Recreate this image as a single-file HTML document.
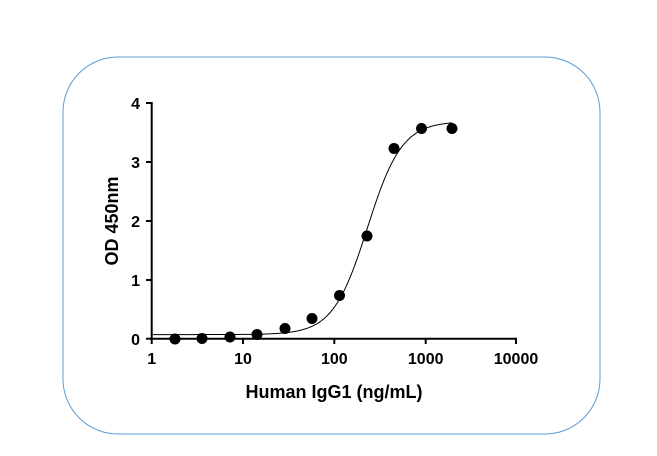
<!DOCTYPE html>
<html><head><meta charset="utf-8"><style>
html,body{margin:0;padding:0;background:#fff;}
svg{display:block;font-family:"Liberation Sans",Arial,sans-serif;}
</style></head><body>
<svg id="s" width="657" height="456" viewBox="0 0 657 456">
<rect x="63" y="57" width="537" height="377" rx="55" ry="55" fill="none" stroke="#5b9bd5" stroke-width="1"/>
<g stroke="#000" stroke-width="2" fill="none">
<line x1="151.7" y1="102" x2="151.7" y2="339"/>
<line x1="151" y1="338.7" x2="517" y2="338.7"/>
<line x1="146" y1="103" x2="152" y2="103"/>
<line x1="146" y1="162" x2="152" y2="162"/>
<line x1="146" y1="221" x2="152" y2="221"/>
<line x1="146" y1="280" x2="152" y2="280"/>
<line x1="146" y1="338.7" x2="152" y2="338.7"/>
<line x1="151.7" y1="338" x2="151.7" y2="344"/>
<line x1="243" y1="338" x2="243" y2="344"/>
<line x1="334.3" y1="338" x2="334.3" y2="344"/>
<line x1="425.7" y1="338" x2="425.7" y2="344"/>
<line x1="516" y1="338" x2="516" y2="344"/>
</g>
<g font-size="16" font-weight="bold" text-anchor="end">
<text x="140" y="109">4</text><text x="140" y="168">3</text><text x="140" y="227">2</text><text x="140" y="286">1</text><text x="140" y="345">0</text>
</g>
<g font-size="16" font-weight="bold" text-anchor="middle">
<text x="151.7" y="364">1</text><text x="243" y="364">10</text><text x="334.3" y="364">100</text><text x="425.7" y="364">1000</text><text x="516" y="364">10000</text>
</g>
<text x="334" y="398" font-size="18" font-weight="bold" text-anchor="middle">Human IgG1 (ng/mL)</text>
<text transform="translate(118,221) rotate(-90)" font-size="18" font-weight="bold" text-anchor="middle">OD 450nm</text>
<path id="c" fill="none" stroke="#000" stroke-width="1"/>
<g fill="#000">
<circle cx="175" cy="339" r="5.5"/><circle cx="202" cy="338.5" r="5.5"/><circle cx="230" cy="337" r="5.5"/>
<circle cx="257" cy="334.5" r="5.5"/><circle cx="285" cy="328.5" r="5.5"/><circle cx="312" cy="318.5" r="5.5"/>
<circle cx="339.5" cy="295.5" r="5.5"/><circle cx="367" cy="236" r="5.5"/><circle cx="394" cy="148.5" r="5.5"/>
<circle cx="421.5" cy="128.5" r="5.5"/><circle cx="452" cy="128.5" r="5.5"/>
</g>
</svg>
<script>
var d="";for(var px=153;px<=452;px+=1){var lx=(px-151.7)/91.4;var y=0.07+(3.62)/(1+Math.pow(10,2.3*(2.36-lx)));var py=338.7-y*58.93;d+=(d?"L":"M")+px+" "+py.toFixed(2);}
document.getElementById("c").setAttribute("d",d);
</script>
</body></html>
